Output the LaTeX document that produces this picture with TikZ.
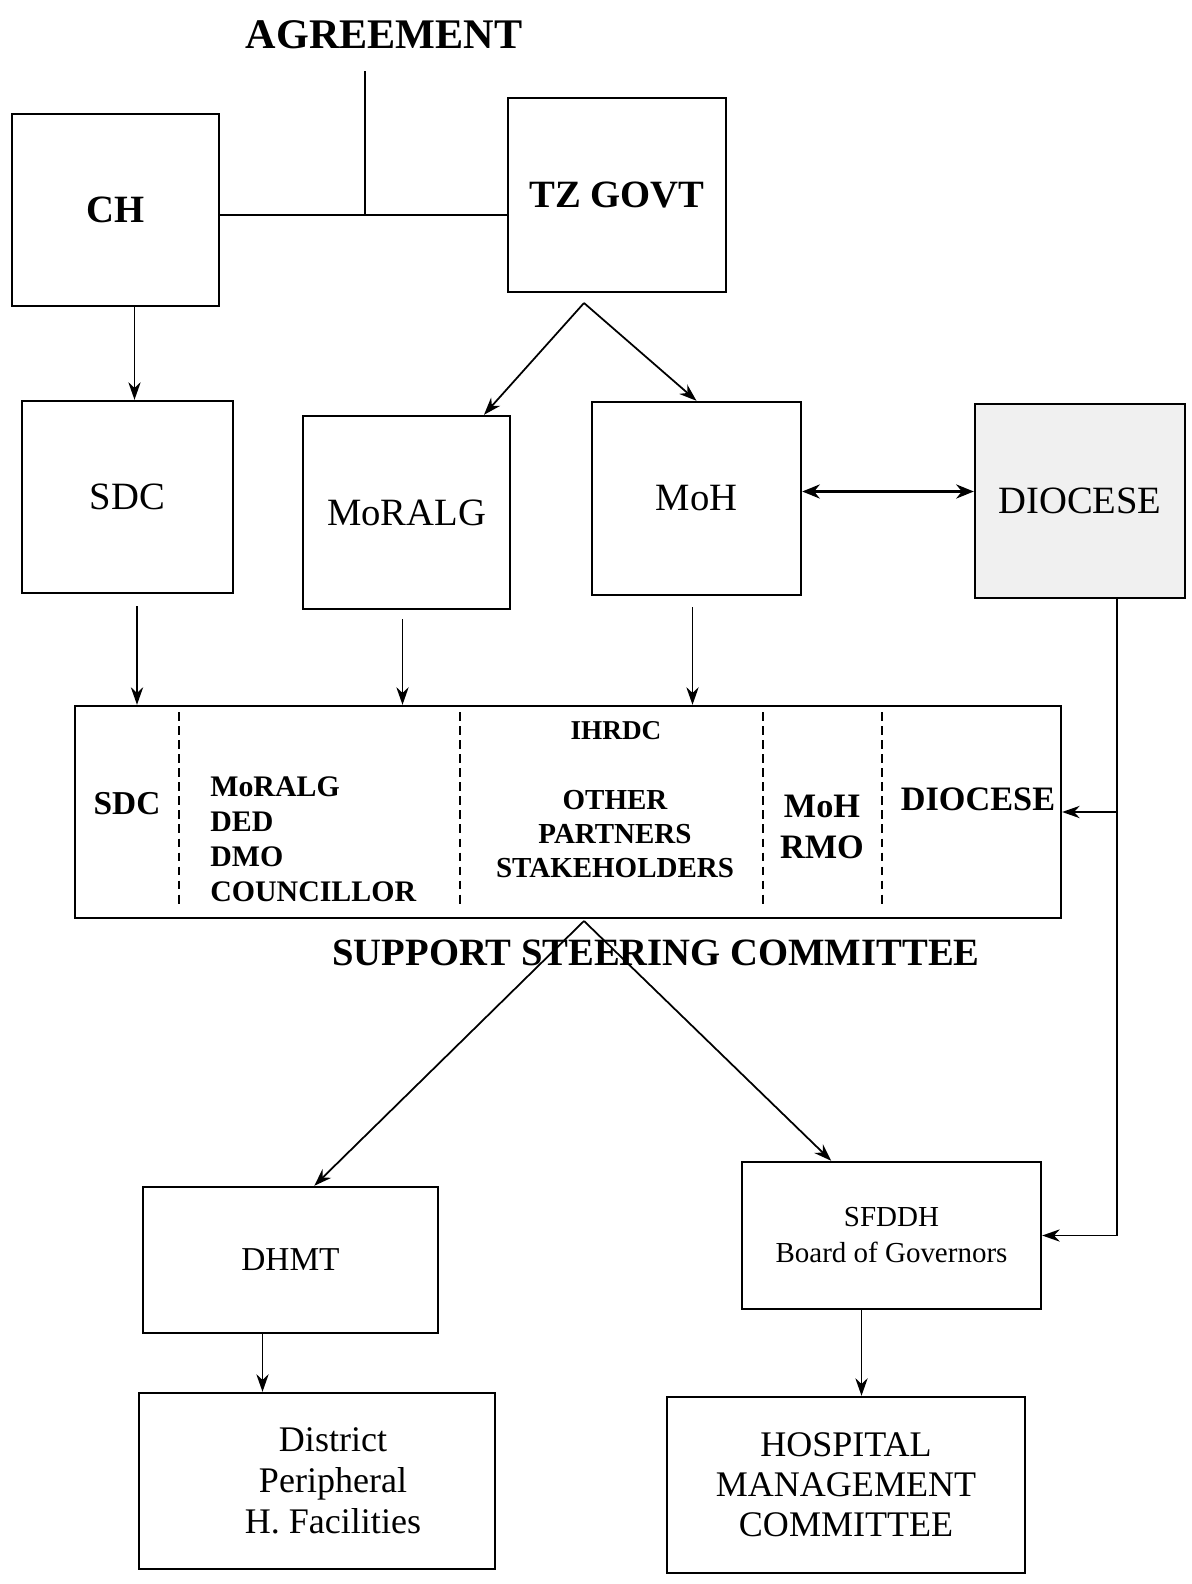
\documentclass[tikz,border=0pt]{standalone}
\usepackage{fontspec}
\setmainfont{Liberation Serif}
\usetikzlibrary{arrows.meta,calc}

\begin{document}
\begin{tikzpicture}[x=0.02cm,y=-0.02cm,
  box/.style={draw,line width=1.4pt,inner sep=0pt,align=center},
  arr/.style={-{Stealth[length=10pt,width=7pt]},line width=1pt},
  dbl/.style={{Stealth[length=10pt,width=8pt]}-{Stealth[length=10pt,width=8pt]},line width=1.8pt},
  ln/.style={line width=1pt},
  divider/.style={line width=0.9pt,dash pattern=on 5pt off 3pt},
  hb/.style={font=\fontsize{22}{26}\selectfont\bfseries},
  hr/.style={font=\fontsize{22}{26}\selectfont}]
\useasboundingbox (0,0) rectangle (1191,1584);

\node[font=\fontsize{24}{28}\selectfont\bfseries] (agreement) at (384,35) {AGREEMENT};
\node[box,hb,minimum width=4.14cm,minimum height=3.84cm] (ch) at (115.5,210) {CH};
\node[box,hb,minimum width=4.36cm,minimum height=3.88cm] (tz) at (617,195) {TZ GOVT};

\node[box,hr,minimum width=4.22cm,minimum height=3.84cm] (sdc) at (127.5,497) {SDC};
\node[box,hr,minimum width=4.14cm,minimum height=3.86cm] (moralg) at (406.5,512.5) {MoRALG};
\node[box,hr,minimum width=4.18cm,minimum height=3.86cm] (moh) at (696.5,498.5) {MoH};
\node[box,hr,fill=black!6,minimum width=4.2cm,minimum height=3.88cm] (diocese) at (1080,501) {DIOCESE};

\node[box,minimum width=19.72cm,minimum height=4.24cm] (ssc) at (568,812) {};
\foreach \dx in {179,460,763,882}
  \draw[divider] (\dx,712) -- (\dx,904);
\node[font=\fontsize{19}{23}\selectfont\bfseries] (sscsdc) at (127,804) {SDC};
\node[font=\fontsize{17}{20}\selectfont\bfseries,align=left,anchor=west,inner sep=0pt] (sscmoralg) at (210,839) {MoRALG\\DED\\DMO\\COUNCILLOR};
\node[font=\fontsize{15.5}{19}\selectfont\bfseries] (ihrdc) at (616,731) {IHRDC};
\node[font=\fontsize{16.5}{19.5}\selectfont\bfseries,align=center] (partners) at (615,834) {OTHER\\PARTNERS\\STAKEHOLDERS};
\node[font=\fontsize{19.5}{23.3}\selectfont\bfseries,align=center] (sscmoh) at (822,826.5) {MoH\\RMO};
\node[font=\fontsize{19.5}{23}\selectfont\bfseries] (sscdiocese) at (978,799) {DIOCESE};
\node[hb] (ssclabel) at (656,953) {SUPPORT STEERING COMMITTEE};

\node[box,font=\fontsize{19}{23}\selectfont,minimum width=5.9cm,minimum height=2.92cm] (dhmt) at (290.5,1260) {DHMT};
\node[box,font=\fontsize{16.5}{20.5}\selectfont,minimum width=5.98cm,minimum height=2.94cm] (sfddh) at (891.5,1235.5) {SFDDH\\Board of Governors};
\node[box,minimum width=7.12cm,minimum height=3.52cm] (district) at (317,1481) {};
\node[font=\fontsize{20.5}{23.3}\selectfont,align=center] (districttext) at (333,1481) {District\\Peripheral\\H. Facilities};
\node[box,font=\fontsize{20.5}{22.7}\selectfont,minimum width=7.16cm,minimum height=3.52cm] (hmc) at (846,1485) {HOSPITAL\\MANAGEMENT\\COMMITTEE};

\coordinate (join) at (365,215);
\draw[ln] (join -| ch.east) -- (join -| tz.west);
\draw[ln] (join) -- ++(0,-144);

\coordinate (tzfork) at (584,303);
\draw[arr] (tzfork) -- ($(moralg.north west)!0.87!(moralg.north east)$);
\draw[arr] (tzfork) -- (moh.north);

\draw[arr] ($(ch.south)+(19,0)$) -- ($(sdc.north)+(7,0)$);
\draw[arr] ($(sdc.south)+(9.5,12)$) coordinate (s1) -- (s1 |- ssc.north);
\draw[arr] ($(moralg.south)+(-4,9)$) coordinate (s2) -- (s2 |- ssc.north);
\draw[arr] ($(moh.south)+(-4,11)$) coordinate (s3) -- (s3 |- ssc.north);
\draw[dbl] ($(moh.east)+(0,-7)$) coordinate (d1) -- (d1 -| diocese.west);

\coordinate (diobend) at (1117,1234);
\draw[ln] (diocese.south -| diobend) -- (sfddh.east -| diobend);
\draw[arr] (ssc.east -| diobend) -- (ssc.east);
\draw[arr] (sfddh.east -| diobend) -- (sfddh.east);

\coordinate (sscfork) at (584,921);
\draw[arr] (sscfork) -- ($(dhmt.north west)!0.58!(dhmt.north east)$);
\draw[arr] (sscfork) -- ($(sfddh.north west)!0.3!(sfddh.north east)$);

\draw[arr] ($(dhmt.south)+(-28,0)$) coordinate (s4) -- (s4 |- district.north);
\draw[arr] ($(sfddh.south)+(-30,0)$) coordinate (s5) -- (s5 |- hmc.north);
\end{tikzpicture}
\end{document}
